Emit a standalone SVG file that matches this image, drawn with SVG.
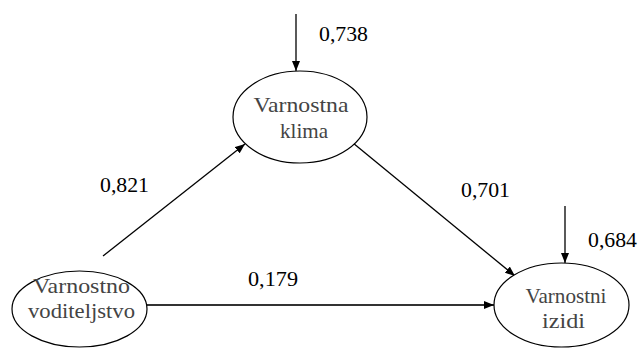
<svg xmlns="http://www.w3.org/2000/svg" width="641" height="349" viewBox="0 0 641 349">
<style>
.node ellipse{fill:#fff;stroke:#000;stroke-width:1.2}
.lbl{font-size:21px;fill:#444;text-anchor:middle}
.num{font-size:21px;fill:#000}
.edge{stroke:#000;stroke-width:1.3;fill:none;marker-end:url(#ah)}
</style>
<defs>
<marker id="ah" markerUnits="userSpaceOnUse" markerWidth="10" markerHeight="8" refX="10" refY="4" orient="auto">
<path d="M0,0 L10,4 L0,8 z" fill="#000"/>
</marker>
</defs>
<rect width="641" height="349" fill="#fff"/>
<g id="connectors">
<line class="edge" x1="296" y1="14" x2="296" y2="71"/>
<line class="edge" x1="565" y1="206" x2="565" y2="263"/>
<line class="edge" x1="103" y1="256" x2="245" y2="144"/>
<line class="edge" x1="353" y1="143" x2="515" y2="276"/>
<line class="edge" x1="147" y1="305" x2="494" y2="305" style="stroke:#333;stroke-width:1.8"/>
</g>
<g font-family="Liberation Serif, Times New Roman, Times, DejaVu Serif, serif">
<g id="klima" class="node">
<ellipse cx="300" cy="117" rx="67" ry="46"/>
<text class="lbl" x="301" y="112" textLength="95" lengthAdjust="spacingAndGlyphs">Varnostna</text>
<text class="lbl" x="304" y="138" textLength="48" lengthAdjust="spacingAndGlyphs">klima</text>
</g>
<g id="vodenje" class="node">
<ellipse cx="79.5" cy="309" rx="67.5" ry="38"/>
<text class="lbl" x="81.5" y="293" textLength="97" lengthAdjust="spacingAndGlyphs">Varnostno</text>
<text class="lbl" x="81.5" y="318" textLength="107" lengthAdjust="spacingAndGlyphs">voditeljstvo</text>
</g>
<g id="izidi" class="node">
<ellipse cx="561.5" cy="305" rx="67.5" ry="42"/>
<text class="lbl" x="566" y="303" textLength="81" lengthAdjust="spacingAndGlyphs">Varnostni</text>
<text class="lbl" x="563.5" y="328" textLength="43" lengthAdjust="spacingAndGlyphs">izidi</text>
</g>
<g id="labels">
<text class="num" x="319" y="41" textLength="49" lengthAdjust="spacingAndGlyphs">0,738</text>
<text class="num" x="100" y="192" textLength="49" lengthAdjust="spacingAndGlyphs">0,821</text>
<text class="num" x="461" y="197" textLength="49" lengthAdjust="spacingAndGlyphs">0,701</text>
<text class="num" x="588" y="247" textLength="49" lengthAdjust="spacingAndGlyphs">0,684</text>
<text class="num" x="248" y="286" textLength="50" lengthAdjust="spacingAndGlyphs">0,179</text>
</g>
</g>
</svg>
